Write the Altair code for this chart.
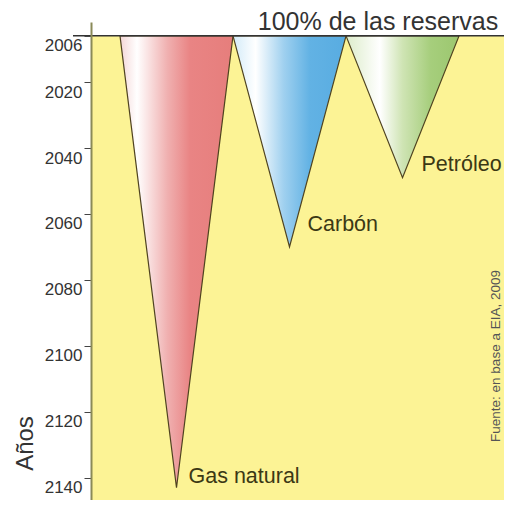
import altair as alt
import pandas as pd

# ---- data ----
fuels = ["Gas natural", "Carbón", "Petróleo"]
depletion_year = [2143, 2070, 2049]
start_year = 2006
reserve_share = 100  # each triangle spans 100% of the reserves
year_ticks = [2006, 2020, 2040, 2060, 2080, 2100, 2120, 2140]
top_label = "100% de las reservas"
source_note = "Fuente: en base a EIA, 2009"
axis_title = "Años"

# ---- tables built from the arrays ----
rows = []
for i, (f, end) in enumerate(zip(fuels, depletion_year)):
    left = i * reserve_share
    for k, (xv, yv) in enumerate([(left, start_year),
                                  (left + reserve_share / 2, end),
                                  (left + reserve_share, start_year)]):
        rows.append({"fuel": f, "x": xv, "year": yv, "base": start_year, "k": k})
tri = pd.DataFrame(rows)
apex = pd.DataFrame({
    "fuel": fuels,
    "x": [i * reserve_share + reserve_share / 2 for i in range(len(fuels))],
    "year": depletion_year,
})

FONT = "Liberation Sans, Arial, sans-serif"
xs = alt.Scale(domain=[-25.66, 339.8], nice=False, zero=False)
ys = alt.Scale(domain=[2001.8, 2146.7], reverse=True, nice=False, zero=False)
yaxis = alt.Axis(
    values=year_ticks, format="d", title=axis_title, orient="left",
    domainColor="#8a8a58", domainWidth=2, tickColor="#444", tickSize=7, tickWidth=1,
    labelFont=FONT, labelFontSize=17, labelColor="#333", labelPadding=2,
    labelOffset=10, labelBaseline="middle",
    titleFont=FONT, titleFontSize=24, titleFontWeight="normal", titleColor="#333",
    titleAngle=270, titleX=-66, titleY=421, titleAlign="center", titleBaseline="middle",
    grid=False, zindex=1,
)
X = lambda f="x:Q": alt.X(f, scale=xs, axis=None)
Y = lambda f="year:Q": alt.Y(f, scale=ys, axis=yaxis)

# yellow field below the 2006 line
bg = alt.Chart(pd.DataFrame({"y0": [start_year]})).mark_rect(color="#fcf395").encode(
    x=alt.value(0), x2=alt.value("width"), y=Y("y0:Q"), y2=alt.value("height")
)

grad_stops = {
    "Gas natural": [("#f4d6d6", 0), ("#ffffff", 0.15), ("#f0b0b0", 0.42), ("#e98484", 0.62), ("#e67e7c", 1)],
    "Carbón": [("#d3ebf8", 0), ("#ffffff", 0.2), ("#9fd0ef", 0.45), ("#62b2e4", 0.68), ("#58ace1", 1)],
    "Petróleo": [("#dcecca", 0), ("#ffffff", 0.3), ("#cfe4b4", 0.5), ("#a6ce7c", 0.75), ("#9cc76f", 1)],
}

layers = [bg]
for f in fuels:
    g = alt.LinearGradient(
        gradient="linear", x1=0, x2=1, y1=0, y2=0,
        stops=[alt.GradientStop(color=c, offset=o) for c, o in grad_stops[f]],
    )
    layers.append(
        alt.Chart(tri).transform_filter(alt.datum.fuel == f)
        .mark_area(orient="vertical", fill=g, stroke="#4f4320", strokeWidth=1.2,
                   strokeJoin="miter")
        .encode(x=X(), y=Y(), y2="base:Q")
    )

# top 100% line
layers.append(
    alt.Chart(pd.DataFrame({"y0": [start_year]})).mark_rule(color="#333", strokeWidth=1.5)
    .encode(x=alt.value(-18), x2=alt.value("width"), y=Y("y0:Q"))
)

offsets = {"Gas natural": (12, -11), "Carbón": (18, -22), "Petróleo": (19, -13)}
for f in fuels:
    dx, dy = offsets[f]
    layers.append(
        alt.Chart(apex).transform_filter(alt.datum.fuel == f)
        .mark_text(align="left", baseline="middle", dx=dx, dy=dy, font=FONT,
                   fontSize=21.5, color="#3b3814")
        .encode(x=X(), y=Y(), text="fuel:N")
    )

layers.append(
    alt.Chart(pd.DataFrame({"t": [top_label], "y0": [start_year]}))
    .mark_text(align="center", baseline="alphabetic", dy=-6, font=FONT, fontSize=25, color="#333")
    .encode(x=alt.value(287), y=Y("y0:Q"), text="t:N")
)

layers.append(
    alt.Chart(pd.DataFrame({"t": [source_note]}))
    .mark_text(align="center", baseline="middle", angle=270, font=FONT, fontSize=13.5, color="#555")
    .encode(x=alt.value(405), y=alt.value(334), text="t:N")
)

chart = alt.layer(*layers).properties(
    width=413, height=478,
    autosize=alt.AutoSizeParams(type="none"),
    padding={"left": 83, "top": 14, "right": 0, "bottom": 0},
    background="white",
).configure_view(stroke=None)

chart.save("out.html", embed_options={"renderer": "svg", "actions": False})
